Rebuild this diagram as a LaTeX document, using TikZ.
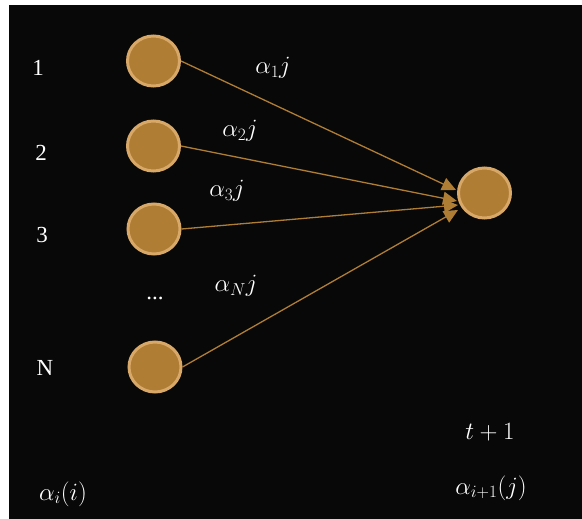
\documentclass[tikz,border=0pt]{standalone}
\usepackage{fontspec}
\setmainfont{Liberation Serif}
\usetikzlibrary{arrows.meta,shapes.geometric}
\definecolor{bronze}{HTML}{B07D35}
\definecolor{ring}{HTML}{D8A868}
\definecolor{bg}{HTML}{080808}
\begin{document}
\begin{tikzpicture}[x=1pt,y=-1pt,
  neuron/.style={ellipse,minimum width=52pt,minimum height=50pt,inner sep=0pt,fill=bronze,draw=ring,line width=3pt},
  lab/.style={text=white,font=\fontsize{23}{25}\selectfont,inner sep=0pt},
  wlab/.style={text=white,font=\fontsize{23}{26}\selectfont,inner sep=0pt},
  link/.style={draw=bronze,line width=1.3pt,-{Triangle[length=14pt,width=13pt]}}]
\useasboundingbox (0,0) rectangle (582,519);
\fill[white] (0,0) rectangle (582,519);
\fill[bg] (9,5) rectangle (582,519);
\node[neuron] (n1) at (153.5,61) {};
\node[neuron] (n2) at (153.5,146) {};
\node[neuron] (n3) at (154,229) {};
\node[neuron] (nN) at (155,367) {};
\node[neuron] (t) at (484.5,193) {};
\coordinate (e1) at (456,190);
\coordinate (e2) at (457,201);
\coordinate (e3) at (458,205);
\coordinate (eN) at (458,210);
\draw[link] (n1.east) -- (e1);
\draw[link] (n2.east) -- (e2);
\draw[link] (n3.east) -- (e3);
\draw[link] (nN.east) -- (eN);
\node[lab] (l1) at (38,68) {1};
\node[lab] (l2) at (41,153) {2};
\node[lab] (l3) at (42,235) {3};
\node[lab] (ld) at (155,298) {...};
\node[lab] (lN) at (45,368) {N};
\node[wlab] (w1) at (273,68) {$\alpha_1 j$};
\node[wlab] (w2) at (240,131) {$\alpha_2 j$};
\node[wlab] (w3) at (227,191) {$\alpha_3 j$};
\node[wlab] (wN) at (236,286) {$\alpha_N j$};
\node[wlab] (tp) at (490,432) {$t+1$};
\node[wlab] (ai) at (63,494) {$\alpha_i(i)$};
\node[wlab] (aj) at (491,488) {$\alpha_{i+1}(j)$};
\end{tikzpicture}
\end{document}
